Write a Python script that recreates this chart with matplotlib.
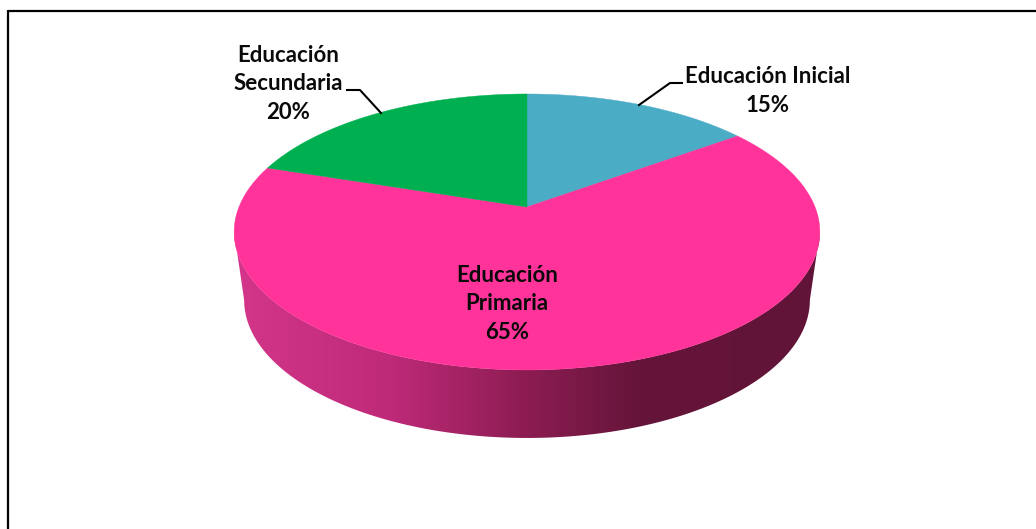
import numpy as np
import matplotlib
matplotlib.use("Agg")
import matplotlib.pyplot as plt
from matplotlib.colors import LinearSegmentedColormap
from matplotlib.path import Path
from matplotlib.patches import PathPatch

categories = ["Educación Inicial", "Educación Primaria", "Educación Secundaria"]
shares = [15, 65, 20]
label_texts = ["Educación Inicial\n15%", "Educación\nPrimaria\n65%", "Educación\nSecundaria\n20%"]
colors = ["#4BACC6", "#FF3399", "#00B050"]

CX, K, C, A, B = 527.0, 288.0, 0.181, -96.0, 207.0
DEPTH, BOTTOM_SCALE = 68.0, 0.966


def project(theta):
    """Clockwise angle from 12 o'clock to a pixel on the tilted disc."""
    x, y = np.sin(theta), np.cos(theta)
    d = 1 + C * y
    return CX + K * x / d, (A * y + B) / d


def base(theta):
    x, y = project(theta)
    return CX + (x - CX) * BOTTOM_SCALE, y + DEPTH


plt.rcParams["font.family"] = ["Lato", "Open Sans", "DejaVu Sans"]
fig = plt.figure(figsize=(10.36, 5.29), dpi=100)
ax = fig.add_axes([0, 0, 1, 1])
ax.set_xlim(0, 1036)
ax.set_ylim(529, 0)
ax.axis("off")

# frame: top and left rules only
ax.plot([8, 1036], [10.5, 10.5], color="black", lw=1.6, solid_capstyle="butt")
ax.plot([8, 8], [10, 529], color="black", lw=1.6, solid_capstyle="butt")

# side wall with horizontal gradient
widest = np.arcsin(C)
arc = np.linspace(np.pi / 2 + widest, 3 * np.pi / 2 - widest, 240)
tx, ty = project(arc)
bx, by = base(arc[::-1])
verts = np.column_stack([np.r_[tx, bx, tx[0]], np.r_[ty, by, ty[0]]])
side_path = Path(verts, closed=True)
cmap = LinearSegmentedColormap.from_list(
    "wall",
    [(0.0, "#D63690"), (0.02, "#D23589"), (0.27, "#BE2A78"), (0.5, "#8C1C52"), (0.69, "#641539"), (1.0, "#621438")],
)
img = ax.imshow(np.linspace(0, 1, 256)[None, :], cmap=cmap, aspect="auto",
                extent=(230, 825, 529, 0), zorder=2)
ax.set_xlim(0, 1036)
ax.set_ylim(529, 0)
clip = PathPatch(side_path, transform=ax.transData, fc="none", ec="none")
ax.add_patch(clip)
img.set_clip_path(clip)

# top slices, clockwise from 12 o'clock
edges = np.r_[0, np.cumsum(shares)] / np.sum(shares) * 2 * np.pi
for start, stop, col in zip(edges[:-1], edges[1:], colors):
    t = np.linspace(start, stop, 300)
    x, y = project(t)
    ax.fill(np.r_[CX, x], np.r_[B, y], color=col, lw=0.3, zorder=3)

# leader lines
ax.plot([347, 360, 381], [90, 90, 113], color="black", lw=1.5, zorder=4)
ax.plot([682, 670, 639], [83, 83, 105], color="black", lw=1.5, zorder=4)

# labels
label_xy = [(768, 91), (507, 304), (288, 84)]
for txt, (lx, ly) in zip(label_texts, label_xy):
    ax.text(lx, ly, txt, ha="center", va="center", fontsize=16, fontweight="bold",
            color="#0A0A0A", linespacing=1.47, zorder=5)

fig.savefig("out.png", dpi=100)
